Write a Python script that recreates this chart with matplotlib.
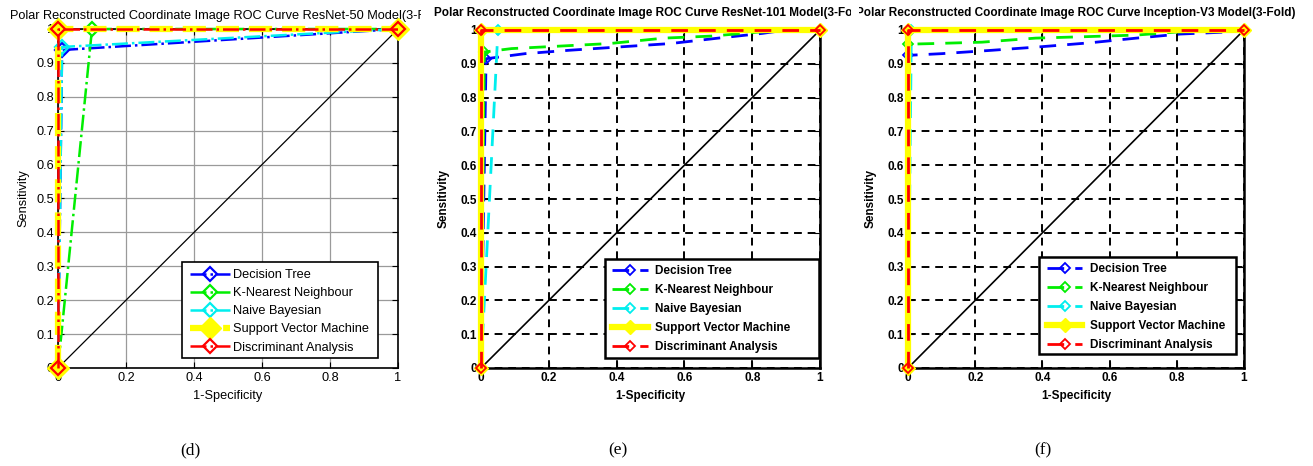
import numpy as np
import matplotlib
matplotlib.use("Agg")
import matplotlib.pyplot as plt
from matplotlib.patches import Rectangle
from matplotlib.ticker import FormatStrFormatter

plt.rcParams['font.family'] = ['Liberation Sans', 'DejaVu Sans']

# ---- data ----
methods = ["Decision Tree", "K-Nearest Neighbour", "Naive Bayesian",
           "Support Vector Machine", "Discriminant Analysis"]
colors = ["#0000ff", "#00ee00", "#00eeee", "#ffff00", "#ff0000"]

titles = ["Polar Reconstructed Coordinate Image ROC Curve ResNet-50 Model(3-Fold)",
          "Polar Reconstructed Coordinate Image ROC Curve ResNet-101 Model(3-Fold)",
          "Polar Reconstructed Coordinate Image ROC Curve Inception-V3 Model(3-Fold)"]
captions = ["(d)", "(e)", "(f)"]

# (d) ResNet-50
d_dt_x = [0, 0.012, 1]
d_dt_y = [0, 0.938, 1]
d_knn_x = [0, 0.1, 1]
d_knn_y = [0, 1, 1]
d_nb_x = [0, 0.012, 1]
d_nb_y = [0, 0.947, 1]
d_svm_x = [0, 0, 1]
d_svm_y = [0, 1, 1]
d_da_x = [0, 0, 1]
d_da_y = [0, 1, 1]

# (e) ResNet-101
e_dt_x = [0, 0.015, 0.13, 0.26, 0.41, 0.56, 0.70, 0.83, 0.90, 1]
e_dt_y = [0, 0.915, 0.93, 0.94, 0.95, 0.96, 0.976, 0.99, 1.0, 1]
e_knn_x = [0, 0.01, 0.09, 0.38, 0.54, 0.68, 0.82, 0.90, 1]
e_knn_y = [0, 0.935, 0.945, 0.96, 0.976, 0.982, 0.994, 1.0, 1]
e_nb_x = [0, 0.05, 1]
e_nb_y = [0, 1, 1]
e_svm_x = [0, 0, 1]
e_svm_y = [0, 1, 1]
e_da_x = [0, 0, 1]
e_da_y = [0, 1, 1]

# (f) Inception-V3
f_dt_x = [0, 0, 0.10, 0.25, 0.39, 0.54, 0.68, 0.81, 0.95, 1]
f_dt_y = [0, 0.925, 0.93, 0.94, 0.95, 0.962, 0.976, 0.988, 0.994, 1]
f_knn_x = [0, 0, 0.08, 0.22, 0.38, 0.52, 0.68, 0.80, 0.95, 1]
f_knn_y = [0, 0.958, 0.96, 0.964, 0.976, 0.98, 0.985, 0.994, 1.0, 1]
f_nb_x = [0, 0.01, 1]
f_nb_y = [0, 1, 1]
f_svm_x = [0, 0, 1]
f_svm_y = [0, 1, 1]
f_da_x = [0, 0, 1]
f_da_y = [0, 1, 1]

panels = [
    [(d_dt_x, d_dt_y), (d_knn_x, d_knn_y), (d_nb_x, d_nb_y), (d_svm_x, d_svm_y), (d_da_x, d_da_y)],
    [(e_dt_x, e_dt_y), (e_knn_x, e_knn_y), (e_nb_x, e_nb_y), (e_svm_x, e_svm_y), (e_da_x, e_da_y)],
    [(f_dt_x, f_dt_y), (f_knn_x, f_knn_y), (f_nb_x, f_nb_y), (f_svm_x, f_svm_y), (f_da_x, f_da_y)],
]

W, H = 1313, 466
fig = plt.figure(figsize=(W / 100, H / 100), dpi=100)

# layout in pixels: axes (left, right, top, bottom)
ax_px = [(58, 398, 29, 368), (481, 820, 30, 368), (908, 1244, 30, 368)]
clip_px = [(0, 421), (429, 851), (859, 1313)]
# legend frame (left, right, top, bottom) and where the entries start (x, y)
leg_box = [(182, 378, 262, 358), (605, 819, 259, 358), (1039, 1236, 257, 354)]
leg_start = [(190, 269), (612, 265), (1047, 263)]
leg_handle = [(3.1, 0.25), (3.05, 0.6), (3.0, 0.68)]
leg_spacing = [0.48, 0.6, 0.6]
caption_x = [190, 618, 1043]

for i in range(3):
    l, r, t, b = ax_px[i]
    ax = fig.add_axes([l / W, (H - b) / H, (r - l) / W, (b - t) / H])
    matlab_new = (i == 0)
    fs = 9.2 if matlab_new else 8.5
    fw = 'normal' if matlab_new else 'bold'

    for j, (xs, ys) in enumerate(panels[i]):
        marks = [0, 1, len(xs) - 1]
        if matlab_new:
            if j == 3:
                ax.plot(xs, ys, ls='--', color=colors[j], lw=4.5, marker='D', ms=11,
                        mfc=colors[j], mec=colors[j], clip_on=False, label=methods[j], zorder=3)
            else:
                ax.plot(xs, ys, ls='-.', color=colors[j], lw=1.8, marker='D', ms=7,
                        mfc='none', mec=colors[j], mew=1.6, clip_on=False, label=methods[j],
                        zorder=4 if j == 4 else 3)
        else:
            if j == 3:
                ax.plot(xs, ys, ls='-', color=colors[j], lw=4.5, marker='D', ms=7,
                        mfc=colors[j], mec=colors[j], clip_on=False, label=methods[j], zorder=3)
            else:
                ax.plot(xs, ys, ls=(0, (6, 4)), color=colors[j], lw=2.0, marker='D', ms=5,
                        markevery=marks, mfc='none', mec=colors[j], mew=1.3, clip_on=False,
                        label=methods[j], zorder=4 if j == 4 else 3)
    ax.plot([0, 1], [0, 1], color='black', lw=0.9 if matlab_new else 1.2, zorder=2)

    ax.set_xlim(0, 1)
    ax.set_ylim(0, 1)
    ax.set_xticks(np.arange(0, 1.01, 0.2))
    ax.set_yticks(np.arange(0, 1.01, 0.1))
    ax.xaxis.set_major_formatter(FormatStrFormatter('%g'))
    ax.yaxis.set_major_formatter(FormatStrFormatter('%g'))
    ax.tick_params(direction='in', top=True, right=True, length=4, labelsize=fs, pad=3)
    for lab in ax.get_xticklabels() + ax.get_yticklabels():
        lab.set_fontweight(fw)
    if matlab_new:
        ax.grid(True, color='#9a9a9a', lw=0.9, ls='-')
        for s in ax.spines.values():
            s.set_linewidth(1.2)
    else:
        ax.grid(True, color='black', lw=1.4, ls=(0, (4, 3)))
        for s in ax.spines.values():
            s.set_linewidth(1.8)
    ax.set_axisbelow(True)

    ax.set_xlabel("1-Specificity", fontsize=fs, fontweight=fw, labelpad=4)
    ax.set_ylabel("Sensitivity", fontsize=fs, fontweight=fw, labelpad=5 if matlab_new else 8)

    tt = ax.set_title(titles[i], fontsize=fs, fontweight=fw, pad=7 if matlab_new else 10)
    cl, cr = clip_px[i]
    rect = Rectangle((cl / W, 0), (cr - cl) / W, 1, transform=fig.transFigure, visible=False)
    fig.add_artist(rect)
    tt.set_clip_path(rect)

    # legend frame drawn separately to match the MATLAB box size
    bl, br, bt, bb = leg_box[i]
    frame = Rectangle((bl / W, (H - bb) / H), (br - bl) / W, (bb - bt) / H,
                      transform=fig.transFigure, facecolor='white', edgecolor='black',
                      lw=1.2 if matlab_new else 1.8, zorder=5, clip_on=False)
    ax.add_patch(frame)
    sx, sy = leg_start[i]
    hl, hp = leg_handle[i]
    leg = ax.legend(loc='upper left', bbox_to_anchor=(sx / W, (H - sy) / H),
                    bbox_transform=fig.transFigure, borderaxespad=0, borderpad=0,
                    frameon=False, handlelength=hl, handletextpad=hp,
                    labelspacing=leg_spacing[i], prop={'weight': fw, 'size': fs})
    leg.set_zorder(6)

    fig.text(caption_x[i] / W, 1 - 450 / H, captions[i], ha='center', va='center',
             fontsize=12.5, family='Liberation Serif')

fig.savefig("out.png", dpi=100)
